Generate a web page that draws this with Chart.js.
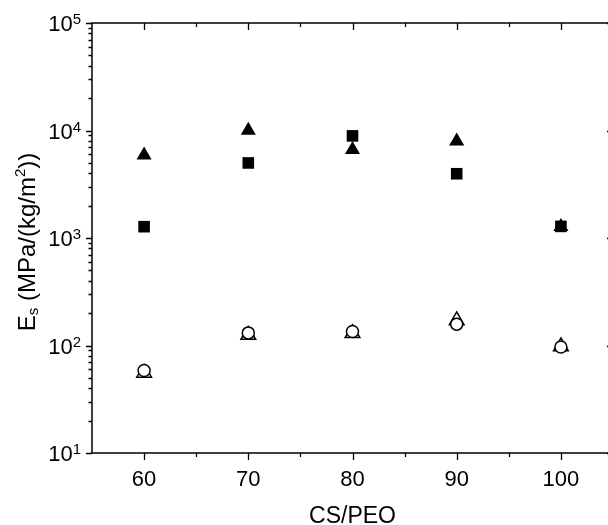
<!DOCTYPE html>
<html><head><meta charset="utf-8">
<script src="https://cdn.jsdelivr.net/npm/chart.js@4"></script>
<style>html,body{margin:0;padding:0;overflow:hidden;background:#fff}</style>
</head><body>
<canvas id="c" width="625" height="525"></canvas>
<script>
// CS/PEO ratio
const categories = [60, 70, 80, 90, 100];
// E_s values, MPa/(kg/m^2)
const filledTriangles = [5900, 10000, 6630, 7960, 1274];
const filledSquares   = [1274, 4990, 8910, 3960, 1282];
const openTriangles   = [55.5, 125, 130, 171, 98];
const openCircles     = [58.6, 131, 135, 158, 97];
// axis ticks
const xTickValues  = [60, 70, 80, 90, 100];
const xMinorValues = [65, 75, 85, 95];
const yExponents   = [1, 2, 3, 4, 5];

const FONT = "'Liberation Sans', Arial, sans-serif";
const pts = arr => categories.map((c, i) => ({x: c, y: arr[i]}));

const framePlugin = {
  id: 'frame',
  afterDraw(chart) {
    const {ctx, chartArea: a, scales: {x, y}} = chart;
    ctx.save();
    ctx.strokeStyle = '#000';
    ctx.lineWidth = 1.5;
    ctx.strokeRect(a.left, a.top, a.right - a.left, a.bottom - a.top);
    ctx.lineWidth = 1.3;
    ctx.beginPath();
    for (const v of xTickValues) {
      const px = Math.round(x.getPixelForValue(v)) + 0.5;
      ctx.moveTo(px, a.bottom); ctx.lineTo(px, a.bottom + 7);
      ctx.moveTo(px, a.top); ctx.lineTo(px, a.top + 7);
    }
    for (const v of xMinorValues) {
      const px = Math.round(x.getPixelForValue(v)) + 0.5;
      ctx.moveTo(px, a.bottom); ctx.lineTo(px, a.bottom + 4);
      ctx.moveTo(px, a.top); ctx.lineTo(px, a.top + 4);
    }
    for (const e of yExponents) {
      const py = Math.round(y.getPixelForValue(Math.pow(10, e))) + 0.5;
      ctx.moveTo(a.left - 6, py); ctx.lineTo(a.left, py);
      ctx.moveTo(a.right - 6, py); ctx.lineTo(a.right, py);
      if (e < 5) {
        for (let m = 2; m <= 9; m++) {
          const pm = Math.round(y.getPixelForValue(m * Math.pow(10, e))) + 0.5;
          ctx.moveTo(a.left - 3.5, pm); ctx.lineTo(a.left, pm);
          ctx.moveTo(a.right - 3.5, pm); ctx.lineTo(a.right, pm);
        }
      }
    }
    ctx.stroke();

    // y tick labels 10^n
    ctx.fillStyle = '#000';
    ctx.textBaseline = 'alphabetic';
    for (const e of yExponents) {
      const py = y.getPixelForValue(Math.pow(10, e));
      ctx.textAlign = 'right';
      ctx.font = `15px ${FONT}`;
      const sw = ctx.measureText(String(e)).width;
      const rightEdge = 81;
      ctx.fillText(String(e), rightEdge, py + 1);
      ctx.font = `22px ${FONT}`;
      ctx.fillText('10', rightEdge - sw, py + 8);
    }

    // y axis title: E_s (MPa/(kg/m^2))
    const parts = [
      {t: 'E', size: 24, dy: 0},
      {t: 's', size: 15, dy: 3},
      {t: ' (MPa/(kg/m', size: 24, dy: 0},
      {t: '2', size: 15, dy: -10},
      {t: '))', size: 24, dy: 0}
    ];
    let total = 0;
    for (const p of parts) { ctx.font = `${p.size}px ${FONT}`; p.w = ctx.measureText(p.t).width; total += p.w; }
    ctx.translate(35, 242);
    ctx.rotate(-Math.PI / 2);
    ctx.textAlign = 'left';
    let cx = -total / 2;
    for (const p of parts) {
      ctx.font = `${p.size}px ${FONT}`;
      ctx.fillText(p.t, cx, p.dy);
      cx += p.w;
    }
    ctx.restore();
  }
};

new Chart(document.getElementById('c'), {
  type: 'scatter',
  data: {
    datasets: [
      {label: 'open circles', data: pts(openCircles), pointStyle: 'circle', pointRadius: 6,
       backgroundColor: '#fff', borderColor: '#000', borderWidth: 1.5},
      {label: 'open triangles', data: pts(openTriangles), pointStyle: 'triangle', pointRadius: 8.5,
       backgroundColor: '#fff', borderColor: '#000', borderWidth: 1.5},
      {label: 'filled squares', data: pts(filledSquares), pointStyle: 'rect', pointRadius: 8.2,
       backgroundColor: '#000', borderColor: '#000', borderWidth: 0},
      {label: 'filled triangles', data: pts(filledTriangles), pointStyle: 'triangle', pointRadius: 8.7,
       backgroundColor: '#000', borderColor: '#000', borderWidth: 0}
    ]
  },
  options: {
    responsive: false,
    animation: false,
    events: [],
    layout: {padding: {left: 0, right: 12, top: 23, bottom: 0}},
    plugins: {legend: {display: false}, tooltip: {enabled: false}},
    scales: {
      x: {
        type: 'linear', position: 'bottom', min: 55, max: 105,
        afterBuildTicks: s => { s.ticks = xTickValues.map(v => ({value: v})); },
        afterFit: s => { s.height = 72; },
        grid: {display: true, drawOnChartArea: false, drawTicks: true, tickLength: 7, tickColor: 'rgba(0,0,0,0)'},
        border: {display: false},
        ticks: {color: '#000', font: {family: FONT, size: 22}, padding: 7, maxRotation: 0},
        title: {display: true, text: 'CS/PEO', color: '#000', font: {family: FONT, size: 23, lineHeight: 1}, padding: {top: 0, bottom: -3}}
      },
      y: {
        type: 'logarithmic', position: 'left', min: 10, max: 100000,
        afterFit: s => { s.width = 92; },
        grid: {display: false},
        border: {display: false},
        ticks: {display: false}
      }
    }
  },
  plugins: [framePlugin]
});
</script>
</body></html>
